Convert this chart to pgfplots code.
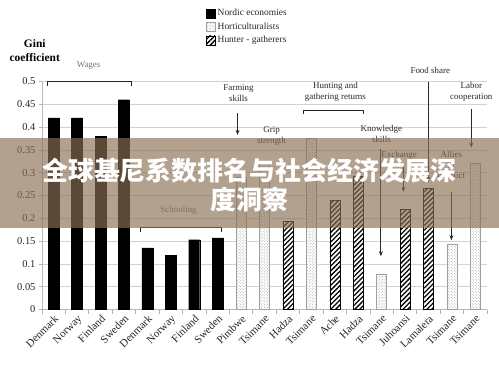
\documentclass[border=0pt]{standalone}
\usepackage{pgfplots}
\pgfplotsset{compat=1.18}
\usetikzlibrary{patterns,patterns.meta,arrows.meta}
\usepackage{fontspec}
\setmainfont{Liberation Serif}
\newfontfamily\cjk{Noto Sans CJK SC}
\definecolor{bannerc}{RGB}{138,112,84}
\definecolor{annot}{RGB}{40,40,40}
\pgfplotsset{boxlegend/.style={legend image code/.code={\draw[##1] (0bp,-4.5bp) rectangle (9bp,4.5bp);}}}
\begin{document}
\begin{tikzpicture}
\path[use as bounding box] (0,0) rectangle (499bp,366bp);
\begin{axis}[
  at={(42bp,56.5bp)}, anchor=south west,
  scale only axis, width=445bp, height=228bp,
  xmin=-0.5, xmax=18.5, ymin=0, ymax=0.5,
  clip=false,
  axis lines*=left,
  axis line style={gray!55, line width=0.8pt},
  tick style={gray!60, line width=0.7pt},
  tick align=outside,
  ytick={0,0.05,0.1,0.15,0.2,0.25,0.3,0.35,0.4,0.45,0.5},
  yticklabels={0,0.05,0.1,0.15,0.2,0.25,0.3,0.35,0.4,0.45,0.5},
  major tick length=3bp,
  minor tick length=4bp,
  yticklabel style={font=\fontsize{10.5}{12}\selectfont, text=black!85},
  ymajorgrids, grid style={gray!35, line width=0.6pt},
  xtick={0,...,18},
  xticklabels={Denmark,Norway,Finland,Sweden,Denmark,Norway,Finland,Sweden,Pimbwe,Tsimane,Hadza,Tsimane,Ache,Hadza,Tsimane,Juhoansi,Lamalera,Tsimane,Tsimane},
  major x tick style={draw=none},
  minor xtick={-0.5,0.5,...,18.5},
  xticklabel style={rotate=45, anchor=north east, font=\fontsize{11}{12}\selectfont, inner sep=1pt, text=black!85},
  legend style={at={(0.362,1.335)}, anchor=north west, draw=none, fill=none,
     font=\fontsize{9.5}{11}\selectfont, row sep=1.5bp, text=black!85},
  legend cell align=left,
]
\addplot[ybar, bar width=11bp, bar shift=0pt, fill=black, draw=black, boxlegend]
  coordinates {(0,0.42) (1,0.42) (2,0.38) (3,0.46) (4,0.135) (5,0.118) (6,0.153) (7,0.157)};
\addlegendentry{Nordic economies}
\addplot[ybar, bar width=10bp, bar shift=0pt, fill=white, draw=gray!75,
  postaction={pattern=crosshatch dots, pattern color=gray!70}, boxlegend]
  coordinates {(8,0.29) (9,0.32) (11,0.375) (14,0.078) (17,0.144) (18,0.321)};
\addlegendentry{Horticulturalists}
\addplot[ybar, bar width=10bp, bar shift=0pt, fill=white, draw=black,
  postaction={pattern={Lines[angle=45,distance=3.4bp,line width=1.3bp]}, pattern color=black}, boxlegend]
  coordinates {(10,0.193) (12,0.24) (13,0.293) (15,0.22) (16,0.266)};
\addlegendentry{Hunter - gatherers}

% annotations
\node[font=\bfseries\fontsize{11.5}{14}\selectfont, align=center] at (axis cs:-0.81,0.567) {Gini\\coefficient};
\node[font=\fontsize{9}{11}\selectfont, text=gray!90!black] at (axis cs:1.49,0.536) {Wages};
\draw[black!85, line width=1pt] (axis cs:-0.26,0.49) -- (axis cs:-0.26,0.499) -- (axis cs:3.33,0.499) -- (axis cs:3.33,0.49);
\node[font=\fontsize{9}{11}\selectfont, text=gray!90!black] at (axis cs:5.33,0.218) {Schooling};
\draw[black!85, line width=1pt] (axis cs:3.71,0.17) -- (axis cs:3.71,0.179) -- (axis cs:7.17,0.179) -- (axis cs:7.17,0.17);
\node[font=\fontsize{9}{11}\selectfont, align=center, text=annot] at (axis cs:7.89,0.475) {Farming\\skills};
\draw[annot, line width=0.9pt, -{Stealth[length=5bp,width=4bp]}] (axis cs:7.85,0.431) -- (axis cs:7.85,0.383);
\node[font=\fontsize{9}{11}\selectfont, align=center, text=annot] at (axis cs:12.03,0.477) {Hunting and\\gathering returns};
\draw[black!85, line width=1pt] (axis cs:10.67,0.429) -- (axis cs:10.67,0.4375) -- (axis cs:13.23,0.4375) -- (axis cs:13.23,0.429);
\node[font=\fontsize{9}{11}\selectfont, text=annot] at (axis cs:16.08,0.525) {Food share};
\draw[annot, line width=0.9pt, -{Stealth[length=5bp,width=4bp]}] (axis cs:16,0.5) -- (axis cs:16,0.28);
\node[font=\fontsize{9}{11}\selectfont, align=center, text=annot] at (axis cs:17.83,0.477) {Labor\\cooperation};
\draw[annot, line width=0.9pt, -{Stealth[length=5bp,width=4bp]}] (axis cs:17.83,0.44) -- (axis cs:17.83,0.355);
\node[font=\fontsize{9}{11}\selectfont, align=center, text=annot] at (axis cs:9.3,0.38) {Grip\\strength};
\node[font=\fontsize{9}{11}\selectfont, align=center, text=annot] at (axis cs:13.99,0.386) {Knowledge\\skills};
\draw[annot, line width=0.9pt, -{Stealth[length=5bp,width=4bp]}] (axis cs:13.97,0.352) -- (axis cs:13.97,0.117);
\node[font=\fontsize{9}{11}\selectfont, align=center, text=annot] at (axis cs:14.75,0.338) {Exchange};
\draw[annot, line width=0.9pt, -{Stealth[length=5bp,width=4bp]}] (axis cs:14.93,0.315) -- (axis cs:14.93,0.258);
\node[font=\fontsize{9}{11}\selectfont, align=center, text=annot] at (axis cs:16.98,0.317) {Allies\\in\\conflict};
\draw[annot, line width=0.9pt, -{Stealth[length=5bp,width=4bp]}] (axis cs:16.98,0.258) -- (axis cs:16.98,0.152);
\end{axis}
\fill[bannerc, opacity=0.66] (0,138bp) rectangle (499bp,228bp);
\node[text=white, font=\cjk\bfseries\fontsize{26}{30}\selectfont, align=center] at (249.5bp,181bp) {全球基尼系数排名与社会经济发展深\\度洞察};
\end{tikzpicture}
\end{document}
